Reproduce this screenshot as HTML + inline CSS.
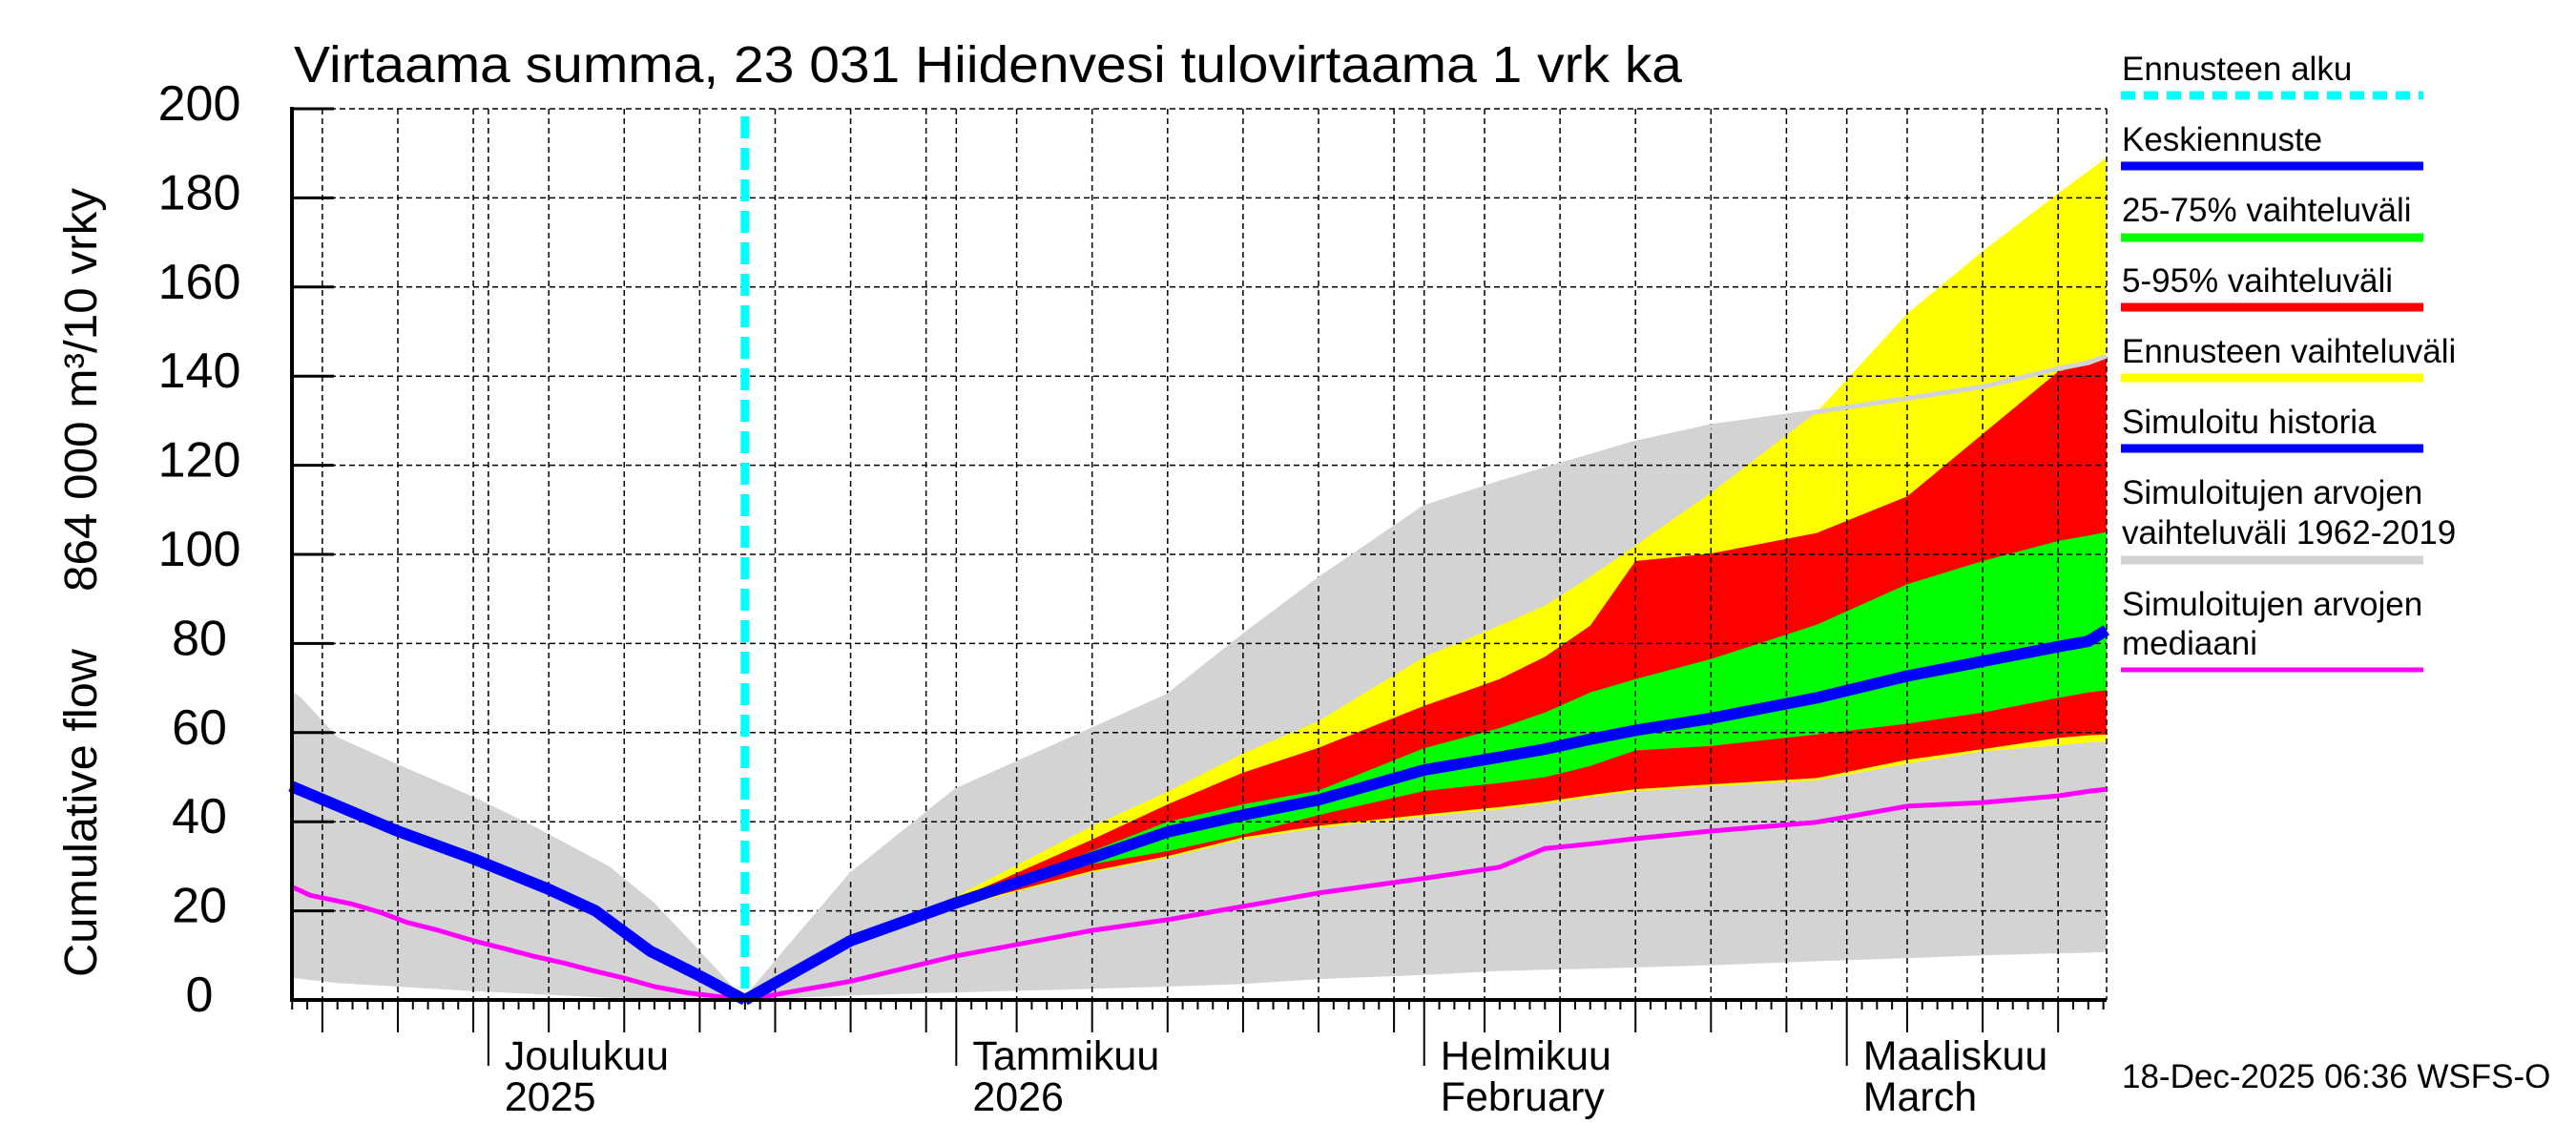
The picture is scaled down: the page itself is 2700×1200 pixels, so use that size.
<!DOCTYPE html>
<html><head><meta charset="utf-8"><style>
html,body{margin:0;padding:0;background:#fff;}
svg{display:block;font-family:"Liberation Sans",sans-serif;}
</style></head><body>
<svg id="chart" xmlns="http://www.w3.org/2000/svg" width="2700" height="1200" viewBox="0 0 2700 1200">
<rect width="2700" height="1200" fill="#fff"/>
<g id="bands"></g>
<g id="grid"></g>
<g id="lines"></g>
<g id="axes"></g>
<text x="308" y="86" font-size="54" textLength="1455" lengthAdjust="spacingAndGlyphs">Virtaama summa, 23 031 Hiidenvesi tulovirtaama 1 vrk ka</text>
<text transform="translate(101,1024) rotate(-90)" font-size="48" textLength="344" lengthAdjust="spacingAndGlyphs">Cumulative flow</text>
<text transform="translate(101,620) rotate(-90)" font-size="48" textLength="423" lengthAdjust="spacingAndGlyphs">864 000 m³/10 vrky</text>
<g id="legend">
<text x="2224" y="84" font-size="35">Ennusteen alku</text>
<line x1="2223" y1="100" x2="2540" y2="100" stroke="#00ffff" stroke-width="9" stroke-dasharray="15,9"/>
<text x="2224" y="158" font-size="35">Keskiennuste</text>
<line x1="2223" y1="174" x2="2540" y2="174" stroke="#0000ff" stroke-width="9"/>
<text x="2224" y="232" font-size="35">25-75% vaihteluväli</text>
<line x1="2223" y1="249" x2="2540" y2="249" stroke="#00ff00" stroke-width="9"/>
<text x="2224" y="306" font-size="35">5-95% vaihteluväli</text>
<line x1="2223" y1="322" x2="2540" y2="322" stroke="#ff0000" stroke-width="9"/>
<text x="2224" y="380" font-size="35">Ennusteen vaihteluväli</text>
<line x1="2223" y1="396" x2="2540" y2="396" stroke="#ffff00" stroke-width="9"/>
<text x="2224" y="454" font-size="35">Simuloitu historia</text>
<line x1="2223" y1="470" x2="2540" y2="470" stroke="#0000ff" stroke-width="9"/>
<text x="2224" y="528" font-size="35">Simuloitujen arvojen</text>
<text x="2224" y="570" font-size="35">vaihteluväli 1962-2019</text>
<line x1="2223" y1="587" x2="2540" y2="587" stroke="#d3d3d3" stroke-width="9"/>
<text x="2224" y="645" font-size="35">Simuloitujen arvojen</text>
<text x="2224" y="686" font-size="35">mediaani</text>
<line x1="2223" y1="702" x2="2540" y2="702" stroke="#ff00ff" stroke-width="5"/>
</g>
<text x="2224" y="1140" font-size="35">18-Dec-2025 06:36 WSFS-O</text>
</svg>
<script>
// Days counted from 1 Dec 2025 (day 0)
const histDays   = [-13.1, -12.4, -10, -6.1, -1, 3, 8, 11, 14, 17];
const histGreyUp = [69.5, 67.8, 59, 53, 45.6, 39, 30, 21.8, 11, 0];
const histGreyLoDays = [-13.1, -10, -1, 8, 17];
const histGreyLo = [5, 3.8, 2, 0.5, 0];
const histBlueDays = [-13.1, -6.1, -1, 3.9, 7.1, 10.7, 14, 17];
const histBlue     = [48, 38, 31.7, 25, 20, 11, 5.4, 0];
const histMagDays = [-13.1, -11.8, -9, -7.2, -5.4, -3.3, -1, 1.1, 2.9, 5.1, 6.9, 9, 11, 13.2, 17];
const histMag     = [25.5, 23.5, 21.5, 19.7, 17.4, 15.6, 13.3, 11.5, 9.9, 8.2, 6.6, 4.9, 3, 1.6, 0];

const fcDays  = [17, 24, 31, 40, 45, 50, 55, 62, 67, 70, 73, 76, 81, 88, 94, 99, 104, 106, 107.2];
const greyUp  = [0, 28, 47, 60.6, 68.2, 81.6, 94.3, 110.5, 116, 119, 122, 125, 128.7, 132, 135, 137.6, 141.7, 143, 144.5];
const greyLo  = [0, 1, 1.7, 2.5, 3, 3.6, 4.7, 5.6, 6.5, 6.8, 7, 7.3, 7.8, 8.7, 9.4, 10, 10.5, 10.6, 10.8];
const yelUp   = [0, 14, 23.3, 39, 46.7, 55.3, 62.6, 77, 84, 88.5, 95, 102, 113.8, 131.9, 154, 168, 181, 186, 189];
const redUp   = [0, 13.6, 22.5, 36, 43.9, 51, 56.6, 66, 72, 77, 84, 98.5, 100.2, 104.8, 113, 127, 141, 143, 144];
const grnUp   = [0, 13.4, 22.2, 33.4, 40, 43.9, 47, 56.5, 61, 64.5, 69, 72, 76.5, 84.2, 93.3, 98.5, 103, 104.2, 105];
const blueFc  = [0, 13.3, 21.8, 31.9, 37.7, 41.5, 44.9, 51.6, 54.5, 56.3, 58.5, 60.5, 63.2, 67.8, 72.7, 76, 79.3, 80.5, 83];
const grnLo   = [0, 13.1, 21.4, 30.5, 33.4, 37.1, 41.5, 46.9, 48.7, 50, 52.5, 56, 57, 59.6, 62, 64.5, 67.8, 69, 69.5];
const redLo   = [0, 13, 21.1, 29, 32.3, 36.5, 39.1, 41.6, 43.3, 44.5, 46, 47.3, 48.4, 49.8, 53.9, 56.3, 58.8, 59.4, 59.6];
const yelLo   = [0, 12.8, 20.8, 28.6, 31.9, 36, 38.6, 41.1, 42.8, 44, 45.5, 46.8, 47.9, 49.3, 53, 55.8, 57.1, 57.8, 58];
const magFc   = [0, 4.2, 9.9, 15.6, 18, 21, 24, 27.3, 29.8, 34, 35, 36.2, 37.9, 39.9, 43.5, 44.3, 45.8, 46.8, 47.3];

const yTicks = [0, 20, 40, 60, 80, 100, 120, 140, 160, 180, 200];
const monthStarts = [0, 31, 62, 90];
const monthNames = ["Joulukuu", "Tammikuu", "Helmikuu", "Maaliskuu"];
const monthSub = ["2025", "2026", "February", "March"];
const forecastStart = 17;

const L = 306, R = 2208, T = 114, B = 1048;
const X0 = 511.9, PXD = 15.82;
function xS(d){ return X0 + PXD*d; }
function yS(v){ return B - (B-T)*v/200; }
const NS = "http://www.w3.org/2000/svg";
function mk(tag, attrs, parent){
  const e = document.createElementNS(NS, tag);
  for (const k in attrs) e.setAttribute(k, attrs[k]);
  parent.appendChild(e); return e;
}
function pts(days, vals){ return days.map((d,i)=>xS(d).toFixed(1)+","+yS(vals[i]).toFixed(1)); }
function band(days, up, daysLo, lo, color, name){
  const p = pts(days, up).concat(pts(daysLo, lo).reverse());
  const e = mk("polygon", {points: p.join(" "), fill: color}, document.getElementById("bands"));
  
  
}
function line(days, vals, color, w, name){
  const e = mk("polyline", {points: pts(days, vals).join(" "), fill:"none", stroke: color, "stroke-width": w, "stroke-linejoin":"round"}, document.getElementById("lines"));
  
  
}
band(histDays, histGreyUp, histGreyLoDays, histGreyLo, "#d3d3d3", "history-range-band");
band(fcDays, greyUp, fcDays, greyLo, "#d3d3d3", "forecast-period-range-band");
band(fcDays, yelUp, fcDays, yelLo, "#ffff00", "forecast-range-band");
band(fcDays, redUp, fcDays, redLo, "#ff0000", "band-5-95");
band(fcDays, grnUp, fcDays, grnLo, "#00ff00", "band-25-75");

// grid
const grid = document.getElementById("grid");
yTicks.forEach(v=>{
  const g = mk("line", {x1:L, x2:R, y1:yS(v), y2:yS(v), stroke:"#000", "stroke-width":1.5, "stroke-dasharray":"6,4"}, grid);
  
  
});
const monthLen = [30, 31, 31, 28, 31]; // Nov, Dec, Jan, Feb, Mar
const monthOff = [-30, 0, 31, 62, 90];
const gridDays = [], majorDays = [];
for (let m=0;m<5;m++){
  for (let dd=5; dd<=monthLen[m]; dd+=5) gridDays.push(monthOff[m]+dd-1);
}
const dayMin = Math.ceil((L - X0)/PXD), dayMax = Math.floor((R - X0)/PXD);
gridDays.concat(monthStarts).forEach(d=>{
  if (d<dayMin-1 || xS(d)>R+1) return;
  const g = mk("line", {x1:xS(d), x2:xS(d), y1:T, y2:B, stroke:"#000", "stroke-width":1.5, "stroke-dasharray":"6,4"}, grid);
  
  
});
const rg = mk("line", {x1:R, x2:R, y1:T, y2:B, stroke:"#000", "stroke-width":1.5, "stroke-dasharray":"6,4"}, grid);



// grey range top edge visible over yellow
line(fcDays, greyUp, "#d3d3d3", 5, "range-upper-edge");
line(histMagDays, histMag, "#ff00ff", 5, "median-history-line");
line(fcDays, magFc, "#ff00ff", 5, "median-forecast-line");
line(histBlueDays, histBlue, "#0000ff", 12, "simulated-history-line");
line(fcDays, blueFc, "#0000ff", 12, "mean-forecast-line");
const cy = mk("line", {x1:xS(forecastStart), x2:xS(forecastStart), y1:T+8, y2:B, stroke:"#00ffff", "stroke-width":9, "stroke-dasharray":"23,10"}, document.getElementById("lines"));



// axes
const ax = document.getElementById("axes");
const la = mk("line", {x1:L, x2:L, y1:T-2, y2:B+2, stroke:"#000", "stroke-width":4}, ax);


const ba = mk("line", {x1:L-2, x2:R, y1:B, y2:B, stroke:"#000", "stroke-width":4}, ax);


yTicks.forEach(v=>{
  const t = mk("line", {x1:L, x2:L+44, y1:yS(v), y2:yS(v), stroke:"#000", "stroke-width":3}, ax);
  
  
  const lb = mk("text", {x:209, y:yS(v)+12, "font-size":52, "text-anchor":"middle"}, ax);
  lb.textContent = v;
  
  
});
for (let d=dayMin; d<=dayMax; d++){
  let len = 10;
  if (gridDays.includes(d)) len = 34;
  if (monthStarts.includes(d)) len = 69;
  const t = mk("line", {x1:xS(d), x2:xS(d), y1:B, y2:B+len, stroke:"#000", "stroke-width":2}, ax);
  
  
}
monthStarts.forEach((d,i)=>{
  const a = mk("text", {x:xS(d)+17, y:1121, "font-size":43}, ax);
  a.textContent = monthNames[i];
  
  
  const b = mk("text", {x:xS(d)+17, y:1164, "font-size":43}, ax);
  b.textContent = monthSub[i];
  
  
});
</script>
</body></html>
